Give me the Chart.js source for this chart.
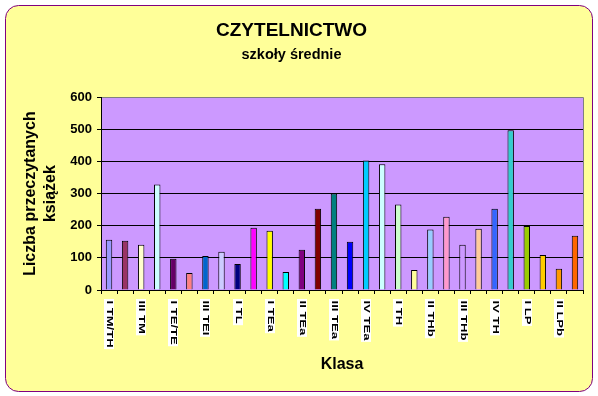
<!DOCTYPE html>
<html>
<head>
<meta charset="utf-8">
<script src="https://cdn.jsdelivr.net/npm/chart.js@4"></script>
<style>
html,body{margin:0;padding:0;background:#fff;}
#wrap{width:598px;height:396px;}
</style>
</head>
<body>
<div id="wrap"><canvas id="c" width="598" height="396"></canvas></div>
<script>
const titleText = 'CZYTELNICTWO';
const subtitleText = 'szkoły średnie';
const yTitle = ['Liczba przeczytanych', 'książek'];
const xTitle = 'Klasa';
const categories = ['I TM/TH','II TM/TH','III TM','IV TM','I TE/TE','II TEI','III TEI','IV TEI','I TL','II TL',
  'I TEa','I TEb','II TEa','II TEb','III TEa','III TEb','IV TEa','IV TEb','I TH','I THb',
  'II THb','III TH','III THb','IV THb','IV TH','II LP','I LP','I LPb','II LPb','III LP'];
const values = [156,153,141,328,97,53,106,119,81,194,184,56,125,253,300,150,403,391,266,62,188,228,141,191,253,497,199,109,66,169];
const barColors = ['#9999FF','#993366','#FFFFCC','#CCFFFF','#660066','#FF8080','#0066CC','#CCCCFF','#000080','#FF00FF',
  '#FFFF00','#00FFFF','#800080','#800000','#008080','#0000FF','#00CCFF','#CCFFFF','#CCFFCC','#FFFF99',
  '#99CCFF','#FF99CC','#CC99FF','#FFCC99','#3366FF','#33CCCC','#99CC00','#FFCC00','#FF9900','#FF6600'];
const yTicks = [0,100,200,300,400,500,600];

const FONT = '"Liberation Sans", Arial, sans-serif';
Chart.defaults.font.family = FONT;
Chart.defaults.color = '#000';

function roundRect(ctx, x, y, w, h, r) {
  ctx.beginPath();
  ctx.moveTo(x + r, y);
  ctx.lineTo(x + w - r, y);
  ctx.arcTo(x + w, y, x + w, y + r, r);
  ctx.lineTo(x + w, y + h - r);
  ctx.arcTo(x + w, y + h, x + w - r, y + h, r);
  ctx.lineTo(x + r, y + h);
  ctx.arcTo(x, y + h, x, y + h - r, r);
  ctx.lineTo(x, y + r);
  ctx.arcTo(x, y, x + r, y, r);
  ctx.closePath();
}

const bgPlugin = {
  id: 'bg',
  beforeDraw(chart) {
    const ctx = chart.ctx;
    const a = chart.chartArea;
    ctx.save();
    ctx.fillStyle = '#fff';
    ctx.fillRect(0, 0, chart.width, chart.height);
    roundRect(ctx, 5.5, 5.5, 587, 386, 13);
    ctx.fillStyle = '#FFFF99';
    ctx.fill();
    ctx.lineWidth = 1;
    ctx.strokeStyle = '#800080';
    ctx.stroke();
    ctx.fillStyle = '#CC99FF';
    ctx.fillRect(a.left, a.top, a.right - a.left, a.bottom - a.top);
    ctx.restore();
  },
  afterDraw(chart) {
    const ctx = chart.ctx;
    const a = chart.chartArea;
    const xs = chart.scales.x;
    ctx.save();
    // plot border top/right grey
    ctx.strokeStyle = '#808080';
    ctx.lineWidth = 1;
    ctx.beginPath();
    ctx.moveTo(a.left + 1, Math.round(a.top) + 0.5);
    ctx.lineTo(Math.round(a.right) + 0.5, Math.round(a.top) + 0.5);
    ctx.lineTo(Math.round(a.right) + 0.5, a.bottom);
    ctx.stroke();
    // x labels, rotated, every other category
    ctx.font = 'bold 9px ' + FONT;
    ctx.textBaseline = 'middle';
    ctx.textAlign = 'left';
    const stretch = 1.45;
    categories.forEach((lab, i) => {
      if (i % 2 !== 0) return;
      const x = xs.getPixelForValue(i);
      const y0 = a.bottom + 9;
      const len = ctx.measureText(lab).width * stretch;
      ctx.fillStyle = '#fff';
      ctx.fillRect(Math.round(x) - 5, y0, 10, len + 3);
      ctx.save();
      ctx.translate(Math.round(x) + 0.5, y0 + 1.5);
      ctx.rotate(Math.PI / 2);
      ctx.scale(stretch, 1);
      ctx.fillStyle = '#000';
      ctx.fillText(lab, 0, 0.5);
      ctx.restore();
    });
    ctx.restore();
  }
};

new Chart(document.getElementById('c'), {
  type: 'bar',
  data: {
    labels: categories,
    datasets: [{
      data: values,
      backgroundColor: barColors,
      borderColor: '#000',
      borderWidth: 1,
      barPercentage: 0.4,
      categoryPercentage: 1.0
    }]
  },
  options: {
    responsive: false,
    animation: false,
    devicePixelRatio: 1,
    layout: { padding: { left: 0, right: 15, top: 0, bottom: 0 } },
    plugins: {
      legend: { display: false },
      tooltip: { enabled: false },
      title: {
        display: true, text: titleText, color: '#000',
        font: { size: 19, weight: 'bold', lineHeight: 1.2 },
        padding: { top: 19, bottom: 0 }
      },
      subtitle: {
        display: true, text: subtitleText, color: '#000',
        font: { size: 14.5, weight: 'bold', lineHeight: 1.2 },
        padding: { top: 4, bottom: 34 }
      }
    },
    scales: {
      x: {
        ticks: { display: false },
        grid: { display: true, drawOnChartArea: false, drawTicks: true, tickLength: 4, color: '#000', offset: true },
        border: { display: true, color: '#000', width: 1 },
        title: {
          display: true, text: xTitle, color: '#000',
          font: { size: 16, weight: 'bold', lineHeight: 1.25 },
          padding: { top: 0, bottom: 21 }
        },
        afterFit(s) { s.height = 106; }
      },
      y: {
        min: 0, max: 600,
        afterBuildTicks(s) { s.ticks = yTicks.map(v => ({ value: v })); },
        ticks: { color: '#000', font: { size: 13, weight: 'bold' }, padding: 5 },
        grid: { color: '#000', lineWidth: 1, drawTicks: true, tickLength: 4 },
        border: { display: true, color: '#000', width: 1 },
        title: {
          display: true, text: yTitle, color: '#000',
          font: { size: 16, weight: 'bold', lineHeight: 1.25 },
          padding: { top: 21, bottom: 0 }
        },
        afterFit(s) { s.width = 101; }
      }
    }
  },
  plugins: [bgPlugin]
});
</script>
</body>
</html>
